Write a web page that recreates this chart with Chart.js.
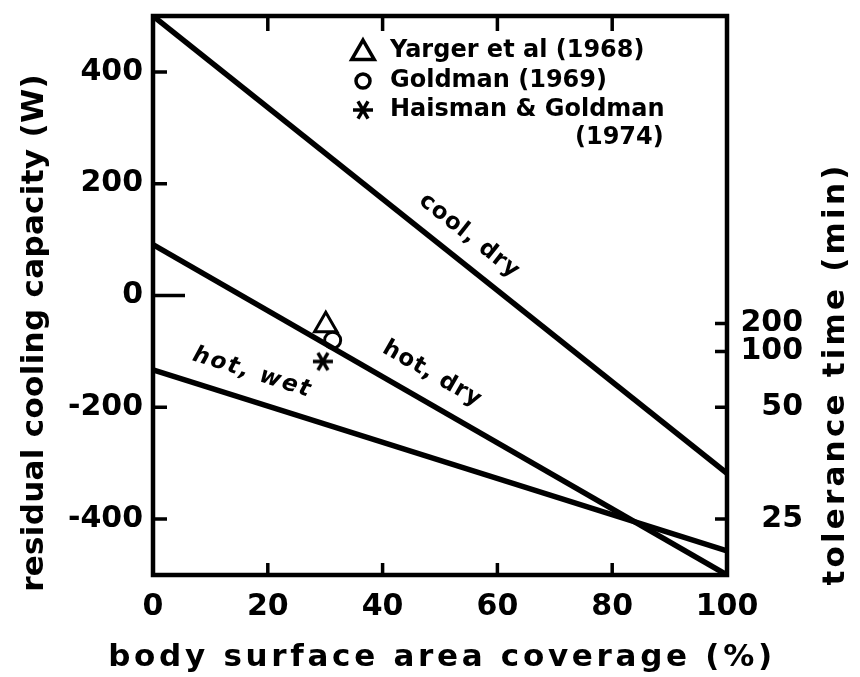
<!DOCTYPE html>
<html>
<head>
<meta charset="utf-8">
<script src="https://cdn.jsdelivr.net/npm/chart.js@4.4.1/dist/chart.umd.min.js"></script>
<style>
  html, body { margin: 0; padding: 0; background: #fff; }
  #wrap { width: 860px; height: 677px; }
</style>
</head>
<body>
<div id="wrap"><canvas id="chart" width="860" height="677"></canvas></div>
<script>
// =====================
// Data
// =====================
const coverage = [0, 100];          // body surface area coverage (%)
const coolDry  = [500, -318];       // residual cooling capacity (W)
const hotDry   = [91, -500];
const hotWet   = [-133, -457];

const studyNames    = ['Yarger et al (1968)', 'Goldman (1969)', 'Haisman & Goldman'];
const studyCoverage = [30.1, 31.3, 29.6];
const studyCapacity = [-53, -80, -118];

const xTicks = [0, 20, 40, 60, 80, 100];
const yTicks = [-400, -200, 0, 200, 400];
// tolerance time (min) marks, placed at the cooling capacity they belong to
const toleranceAt     = [-50, -100, -200, -400];
const toleranceLabels = ['200', '100', '50', '25'];

// =====================
// Look
// =====================
const FONT = "'DejaVu Sans', sans-serif";
const INK = '#000';

// six-armed asterisk used for the Haisman & Goldman marker
function asterisk(size, lw) {
  const c = document.createElement('canvas');
  c.width = c.height = size;
  const g = c.getContext('2d');
  g.strokeStyle = INK;
  g.lineWidth = lw;
  g.translate(size / 2, size / 2);
  const r = size / 2 - 1;
  for (let k = 0; k < 3; k++) {
    const a = k * Math.PI / 3;
    g.beginPath();
    g.moveTo(-r * Math.cos(a), -r * Math.sin(a));
    g.lineTo(r * Math.cos(a), r * Math.sin(a));
    g.stroke();
  }
  return c;
}
const starMark = asterisk(22, 3.5);
const starLegend = asterisk(22, 3.5);

const toXY = (xs, ys) => xs.map((x, i) => ({ x, y: ys[i] }));

function lineSet(ys) {
  return {
    data: toXY(coverage, ys),
    showLine: true,
    borderColor: INK,
    borderWidth: 5.5,
    pointRadius: 0,
    borderCapStyle: 'butt'
  };
}

function markSet(i, style, radius) {
  return {
    label: studyNames[i],
    data: [{ x: studyCoverage[i], y: studyCapacity[i] }],
    pointStyle: style,
    pointRadius: radius,
    pointBorderWidth: 3,
    pointBorderColor: INK,
    pointBackgroundColor: 'rgba(0,0,0,0)'
  };
}

// labels written along the lines: [text, dataset ys, foot x (data), lift (px), italic]
const lineLabels = [
  ['cool, dry', coolDry, 52.4, 25, false],
  ['hot, dry',  hotDry,  46.3, 27, false],
  ['hot, wet',  hotWet,  15.9, 27, true]
];

// drop the label overhang Chart.js reserves around each axis
function tight(s) {
  s.paddingTop = 0; s.paddingBottom = 0;
  s.paddingLeft = 0; s.paddingRight = 0;
}

// =====================
// Plugins
// =====================
const frame = {
  id: 'frame',
  afterDatasetsDraw(chart) {
    const { ctx, chartArea: a, scales } = chart;
    ctx.save();
    ctx.strokeStyle = INK;
    ctx.lineWidth = 4.5;
    ctx.strokeRect(a.left, a.top, a.right - a.left, a.bottom - a.top);

    // inward tick marks
    ctx.lineWidth = 3.5;
    ctx.beginPath();
    scales.x.ticks.forEach(t => {
      if (t.value <= 0 || t.value >= 100) return;
      const px = scales.x.getPixelForValue(t.value);
      ctx.moveTo(px, a.bottom); ctx.lineTo(px, a.bottom - 12);
      ctx.moveTo(px, a.top);    ctx.lineTo(px, a.top + 15);
    });
    scales.y.ticks.forEach(t => {
      const py = scales.y.getPixelForValue(t.value);
      ctx.moveTo(a.left, py); ctx.lineTo(a.left + (t.value === 0 ? 32 : 14), py);
    });
    scales.y2.ticks.forEach(t => {
      const py = scales.y2.getPixelForValue(t.value);
      ctx.moveTo(a.right, py); ctx.lineTo(a.right - 12, py);
    });
    ctx.stroke();

    // text along the lines
    ctx.fillStyle = INK;
    ctx.textAlign = 'center';
    ctx.textBaseline = 'middle';
    lineLabels.forEach(([text, ys, atX, lift, italic]) => {
      const x0 = scales.x.getPixelForValue(coverage[0]), y0 = scales.y.getPixelForValue(ys[0]);
      const x1 = scales.x.getPixelForValue(coverage[1]), y1 = scales.y.getPixelForValue(ys[1]);
      const ang = Math.atan2(y1 - y0, x1 - x0);
      const fx = scales.x.getPixelForValue(atX);
      const fy = y0 + (fx - x0) * (y1 - y0) / (x1 - x0);
      ctx.save();
      ctx.translate(fx, fy);
      ctx.rotate(ang);
      ctx.font = (italic ? 'italic ' : '') + 'bold 23px ' + FONT;
      ctx.letterSpacing = italic ? '2px' : '1px';
      ctx.fillText(text, 0, -lift);
      ctx.restore();
    });
    ctx.restore();
  }
};

const key = {
  id: 'key',
  afterDraw(chart) {
    const { ctx } = chart;
    const mx = 363, tx = 390, rows = [51, 81, 110];
    ctx.save();
    ctx.strokeStyle = INK;
    ctx.fillStyle = 'rgba(0,0,0,0)';
    ctx.lineWidth = 3.5;
    const styles = [
      { pointStyle: 'triangle', radius: 13, borderWidth: 3.5, rotation: 0 },
      { pointStyle: 'circle', radius: 7, borderWidth: 3.5, rotation: 0 },
      { pointStyle: starLegend, radius: 10, borderWidth: 3.5, rotation: 0 }
    ];
    styles.forEach((s, i) => Chart.helpers.drawPoint(ctx, s, mx, rows[i] + (i === 0 ? 2 : 0)));

    ctx.fillStyle = INK;
    ctx.font = 'bold 24px ' + FONT;
    ctx.letterSpacing = '0px';
    ctx.textAlign = 'left';
    ctx.textBaseline = 'middle';
    studyNames.forEach((n, i) => ctx.fillText(n, tx, rows[i]));
    ctx.fillText('(1974)', 575, 138);
    ctx.restore();
  }
};

const axisTitles = {
  id: 'axisTitles',
  afterDraw(chart) {
    const { ctx } = chart;
    ctx.save();
    ctx.fillStyle = INK;
    ctx.font = 'bold 31px ' + FONT;
    ctx.textAlign = 'center';
    ctx.textBaseline = 'middle';

    ctx.letterSpacing = '3.7px';
    ctx.fillText('body surface area coverage (%)', 442, 658);

    ctx.save();
    ctx.translate(35, 333);
    ctx.rotate(-Math.PI / 2);
    ctx.letterSpacing = '0.3px';
    ctx.fillText('residual cooling capacity (W)', 0, 0);
    ctx.restore();

    ctx.save();
    ctx.translate(836, 374);
    ctx.rotate(-Math.PI / 2);
    ctx.letterSpacing = '3.2px';
    ctx.fillText('tolerance time (min)', 0, 0);
    ctx.restore();

    ctx.restore();
  }
};

// =====================
// Chart
// =====================
const tickFont = { family: FONT, size: 30, weight: 'bold' };
const noGrid = { display: false, drawTicks: false };

new Chart(document.getElementById('chart'), {
  type: 'scatter',
  data: {
    datasets: [
      lineSet(coolDry),
      lineSet(hotDry),
      lineSet(hotWet),
      markSet(0, 'triangle', 13),
      markSet(1, 'circle', 8),
      markSet(2, starMark, 10)
    ]
  },
  options: {
    responsive: false,
    animation: false,
    layout: { padding: { top: 14, left: 0, right: 57, bottom: 0 } },
    plugins: { legend: { display: false }, tooltip: { enabled: false } },
    scales: {
      x: {
        type: 'linear', position: 'bottom', min: 0, max: 100,
        grid: noGrid, border: { display: false },
        afterBuildTicks: s => { s.ticks = xTicks.map(v => ({ value: v })); },
        afterFit: s => { s.height = 102; tight(s); },
        ticks: { font: tickFont, color: INK, padding: 14, maxRotation: 0 }
      },
      y: {
        type: 'linear', position: 'left', min: -500, max: 500,
        grid: noGrid, border: { display: false },
        afterBuildTicks: s => { s.ticks = yTicks.map(v => ({ value: v })); },
        afterFit: s => { s.width = 153; tight(s); },
        ticks: { font: tickFont, color: INK, padding: 10 }
      },
      y2: {
        type: 'linear', position: 'right', min: -500, max: 500,
        grid: noGrid, border: { display: false },
        afterBuildTicks: s => { s.ticks = toleranceAt.map(v => ({ value: v })); },
        afterFit: s => { s.width = 76; tight(s); },
        ticks: {
          font: tickFont, color: INK, padding: 12, crossAlign: 'far',
          callback: (v, i) => toleranceLabels[i]
        }
      }
    }
  },
  plugins: [frame, key, axisTitles]
});
</script>
</body>
</html>
